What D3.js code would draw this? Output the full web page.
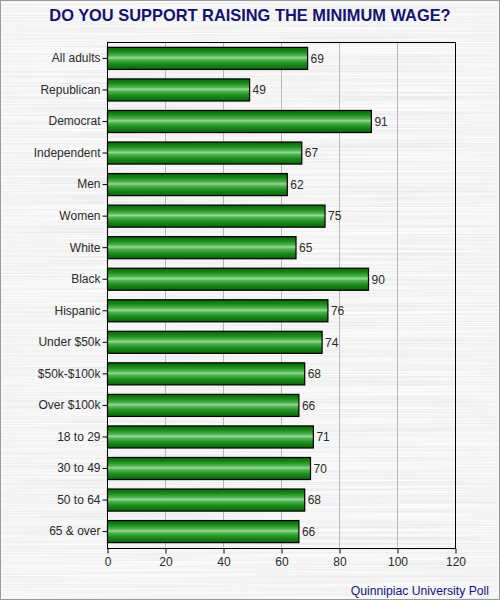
<!DOCTYPE html>
<html>
<head>
<meta charset="utf-8">
<script src="https://cdn.jsdelivr.net/npm/d3@7"></script>
<style>
  html, body { margin: 0; padding: 0; background: #fff; }
  svg { display: block; }
</style>
</head>
<body>
<div id="chart"></div>
<script>
// poll data
var groups = ["All adults", "Republican", "Democrat", "Independent", "Men", "Women",
              "White", "Black", "Hispanic", "Under $50k", "$50k-$100k", "Over $100k",
              "18 to 29", "30 to 49", "50 to 64", "65 & over"];
var support = [69, 49, 91, 67, 62, 75, 65, 90, 76, 74, 68, 66, 71, 70, 68, 66];
var xTicks = [0, 20, 40, 60, 80, 100, 120];

var W = 500, H = 600;
var margin = {top: 42, right: 45, bottom: 52, left: 107};
var w = W - margin.left - margin.right,
    h = H - margin.top - margin.bottom;

var svg = d3.select("#chart").append("svg")
    .attr("width", W)
    .attr("height", H);

var defs = svg.append("defs");

// brushed metal look for the background
var f = defs.append("filter").attr("id", "brushed")
    .attr("x", 0).attr("y", 0).attr("width", "100%").attr("height", "100%");
f.append("feTurbulence")
    .attr("type", "fractalNoise")
    .attr("baseFrequency", "0.004 0.9")
    .attr("numOctaves", 2)
    .attr("seed", 3)
    .attr("result", "noise");
f.append("feColorMatrix")
    .attr("in", "noise")
    .attr("type", "matrix")
    .attr("values", "0.28 0 0 0 0.77  0.28 0 0 0 0.77  0.28 0 0 0 0.77  0 0 0 0 1");

// bar gradient - dark edges, light stripe in the middle
var g = defs.append("linearGradient").attr("id", "barGrad")
    .attr("x1", 0).attr("y1", 0).attr("x2", 0).attr("y2", 1);
[["0%", "#0a630a"], ["20%", "#1b8a1b"], ["38%", "#4fb54f"], ["47%", "#9ad89a"],
 ["56%", "#4fb54f"], ["75%", "#1d8c1d"], ["100%", "#0a630a"]].forEach(function(s) {
  g.append("stop").attr("offset", s[0]).attr("stop-color", s[1]);
});

svg.append("rect")
    .attr("width", W).attr("height", H)
    .attr("fill", "#e6e6e6")
    .attr("filter", "url(#brushed)");

svg.append("rect")
    .attr("x", 0.5).attr("y", 0.5)
    .attr("width", W - 1).attr("height", H - 1)
    .attr("fill", "none")
    .attr("stroke", "#9a9a9a");

svg.append("text")
    .attr("x", W / 2)
    .attr("y", 21)
    .attr("text-anchor", "middle")
    .attr("font-family", "Liberation Sans, Arial, sans-serif")
    .attr("font-weight", "bold")
    .attr("font-size", "16.4px")
    .attr("fill", "#141470")
    .text("DO YOU SUPPORT RAISING THE MINIMUM WAGE?");

var plot = svg.append("g")
    .attr("transform", "translate(" + margin.left + "," + margin.top + ")");

var x = d3.scaleLinear().domain([0, 120]).range([0, w]);
var y = d3.scaleBand().domain(groups).range([0, h]).paddingInner(0.3).paddingOuter(0.17);

// grid
plot.selectAll(".grid")
    .data(xTicks.slice(1, -1))
    .enter().append("line")
    .attr("x1", function(d) { return Math.round(x(d)) + 0.5; })
    .attr("x2", function(d) { return Math.round(x(d)) + 0.5; })
    .attr("y1", 0).attr("y2", h)
    .attr("stroke", "#b8b8b8");

plot.selectAll(".bar")
    .data(support)
    .enter().append("rect")
    .attr("x", 0.5)
    .attr("y", function(d, i) { return y(groups[i]); })
    .attr("width", function(d) { return x(d); })
    .attr("height", y.bandwidth())
    .attr("fill", "url(#barGrad)")
    .attr("stroke", "#000")
    .attr("stroke-width", 1.2);

plot.selectAll(".val")
    .data(support)
    .enter().append("text")
    .attr("x", function(d) { return x(d) + 3.5; })
    .attr("y", function(d, i) { return y(groups[i]) + y.bandwidth() / 2; })
    .attr("dy", "0.36em")
    .attr("font-family", "Liberation Sans, Arial, sans-serif")
    .attr("font-size", "12px")
    .attr("fill", "#2a2a2a")
    .text(function(d) { return d; });

// frame
plot.append("rect")
    .attr("x", 0.5).attr("y", 0.5)
    .attr("width", w).attr("height", h)
    .attr("fill", "none")
    .attr("stroke", "#000");

var xAxis = plot.append("g")
    .attr("transform", "translate(0.5," + (h + 0.5) + ")")
    .call(d3.axisBottom(x).tickValues(xTicks).tickSize(5).tickSizeOuter(0));
var yAxis = plot.append("g")
    .attr("transform", "translate(0.5,0)")
    .call(d3.axisLeft(y).tickSize(5).tickSizeOuter(0));

[xAxis, yAxis].forEach(function(a) {
  a.select(".domain").remove();
  a.selectAll("line").attr("stroke", "#000");
  a.selectAll("text")
      .attr("font-family", "Liberation Sans, Arial, sans-serif")
      .attr("font-size", "12px")
      .attr("fill", "#2a2a2a");
});
xAxis.selectAll("text").attr("y", 9);
yAxis.selectAll("text").attr("x", -7);

svg.append("text")
    .attr("x", 489)
    .attr("y", 595)
    .attr("text-anchor", "end")
    .attr("font-family", "Liberation Sans, Arial, sans-serif")
    .attr("font-size", "12.2px")
    .attr("fill", "#141480")
    .text("Quinnipiac University Poll");
</script>
</body>
</html>
